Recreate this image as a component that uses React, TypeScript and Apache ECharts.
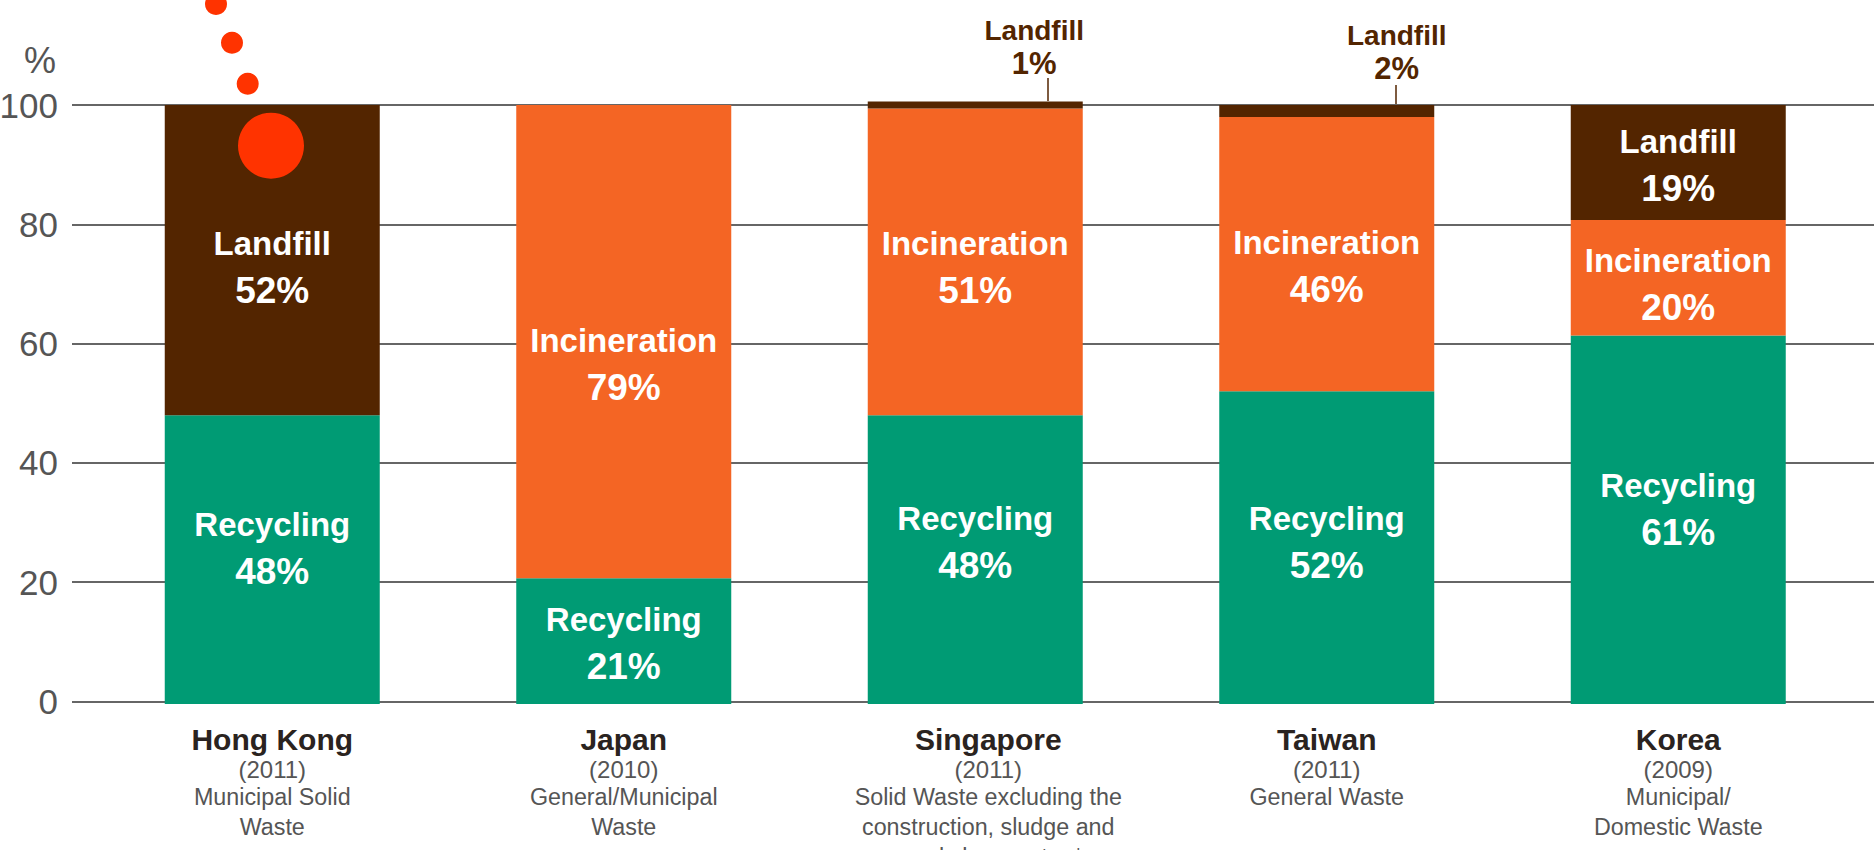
import React, { useEffect, useRef } from "react";
import * as echarts from "echarts";

const categories = ["Hong Kong", "Japan", "Singapore", "Taiwan", "Korea"];
const years = ["(2011)", "(2010)", "(2011)", "(2011)", "(2009)"];
const descriptions = [
  ["Municipal Solid", "Waste"],
  ["General/Municipal", "Waste"],
  ["Solid Waste excluding the", "construction, sludge and", "used slag waste  *"],
  ["General Waste"],
  ["Municipal/", "Domestic Waste"],
];
const yTicks = [0, 20, 40, 60, 80, 100];

const recycling = [48.2, 21, 48.2, 52.2, 61.5];
const incineration = [0, 79, 51.2, 45.8, 19.3];
const landfill = [51.8, 0, 1.2, 2, 19.2];

const recyclingText = ["48%", "21%", "48%", "52%", "61%"];
const incinerationText = ["", "79%", "51%", "46%", "20%"];
const landfillText = ["52%", "", "1%", "2%", "19%"];

const recyclingOffsets = [[0, -12], [0, 2], [0, -18], [0, -6], [0, -11]];
const incinerationOffsets = [[0, 0], [0, 22], [0, 5], [0, 12], [0, 6]];
const landfillOffsets = [[0, 7], [0, 0], [59, -58], [70, -59], [0, 2]];
const calloutBars = [2, 3];
const shiftedLabels = [2];

const GREEN = "#009b74";
const ORANGE = "#f46524";
const BROWN = "#532500";
const RED = "#ff3300";
const FONT = "'Liberation Sans Narrow', 'Liberation Sans', sans-serif";

const rich = {
  n: { fontFamily: FONT, fontWeight: 700, fontSize: 33, lineHeight: 47, color: "#fff" },
  p: { fontFamily: FONT, fontWeight: 700, fontSize: 37, lineHeight: 47, color: "#fff" },
  cn: { fontFamily: FONT, fontWeight: 700, fontSize: 28, lineHeight: 33, color: BROWN },
  cp: { fontFamily: FONT, fontWeight: 700, fontSize: 31, lineHeight: 33, color: BROWN },
};

function items(name: string, values: number[], texts: string[], offsets: number[][]) {
  return values.map((value, i) => {
    const callout = name === "Landfill" && calloutBars.includes(i);
    const show = texts[i] !== "";
    return {
      value,
      label: {
        show,
        position: "inside",
        offset: offsets[i],
        formatter: callout
          ? `{cn|${name}}\n{cp|${texts[i]}}`
          : `{n|${name}}\n{p|${texts[i]}}`,
      },
    };
  });
}

function barSeries(name: string, color: string, data: any[]) {
  return {
    name,
    type: "bar",
    stack: "waste",
    xAxisIndex: 1,
    yAxisIndex: 1,
    barWidth: 215,
    clip: false,
    itemStyle: { color },
    label: { show: true, rich },
    data,
  };
}

const xLabels = categories.map((c, i) => {
  const s = shiftedLabels.includes(i) ? "S" : "";
  return [
    `{name${s}|${c}}`,
    `{year${s}|${years[i]}}`,
    ...descriptions[i].map((d) => `{sub${s}|${d}}`),
  ].join("\n");
});

const nameStyle = { fontFamily: FONT, fontWeight: 700, fontSize: 30, lineHeight: 33, color: "#2a2320" };
const yearStyle = { fontFamily: FONT, fontSize: 24, lineHeight: 26, color: "#555" };
const subStyle = { fontFamily: FONT, fontSize: 23.3, lineHeight: 30, color: "#555" };
const shift = { padding: [0, 0, 0, 26] };

export default function App() {
  const ref = useRef<HTMLDivElement>(null);
  useEffect(() => {
    document.body.style.margin = "0";
    document.body.style.overflow = "hidden";
    const chart = echarts.init(ref.current!, undefined, { renderer: "svg" });
    chart.setOption({
      animation: false,
      backgroundColor: "#fff",
      grid: [
        { left: 72, right: 0, top: 105, height: 596.5, outerBoundsMode: "none" },
        { left: 96.5, width: 1757.5, top: 45.1, height: 658.9, outerBoundsMode: "none" },
      ],
      xAxis: [
        { gridIndex: 0, type: "category", data: categories, show: false },
        {
          gridIndex: 1,
          type: "category",
          data: xLabels,
          axisLine: { show: false },
          axisTick: { show: false },
          axisLabel: {
            margin: 19,
            interval: 0,
            rich: {
              name: nameStyle,
              year: yearStyle,
              sub: subStyle,
              nameS: { ...nameStyle, ...shift },
              yearS: { ...yearStyle, ...shift },
              subS: { ...subStyle, ...shift },
            },
          },
        },
      ],
      yAxis: [
        {
          gridIndex: 0,
          type: "value",
          min: 0,
          max: 100,
          interval: 20,
          axisLine: { show: false },
          axisTick: { show: false },
          splitLine: { show: true, lineStyle: { color: "#666", width: 2 } },
          axisLabel: {
            margin: 14,
            fontFamily: FONT,
            fontSize: 35,
            color: "#555",
            formatter: (v: number) => (yTicks.includes(v) ? String(v) : ""),
          },
        },
        { gridIndex: 1, type: "value", min: 0, max: 110, show: false, splitLine: { show: false } },
      ],
      series: [
        barSeries("Recycling", GREEN, items("Recycling", recycling, recyclingText, recyclingOffsets)),
        barSeries("Incineration", ORANGE, items("Incineration", incineration, incinerationText, incinerationOffsets)),
        barSeries("Landfill", BROWN, items("Landfill", landfill, landfillText, landfillOffsets)),
      ],
      graphic: [
        { type: "text", x: 24, y: 42, style: { text: "%", fontFamily: FONT, fontSize: 36, fill: "#555" } },
        { type: "line", shape: { x1: 1048, y1: 78, x2: 1048, y2: 101 }, style: { stroke: BROWN, lineWidth: 1.5 } },
        { type: "line", shape: { x1: 1396, y1: 85, x2: 1396, y2: 106 }, style: { stroke: BROWN, lineWidth: 1.5 } },
        { type: "circle", z: 50, shape: { cx: 216, cy: 4, r: 11 }, style: { fill: RED } },
        { type: "circle", z: 50, shape: { cx: 232, cy: 42.7, r: 11 }, style: { fill: RED } },
        { type: "circle", z: 50, shape: { cx: 247.7, cy: 83.7, r: 11 }, style: { fill: RED } },
        { type: "circle", z: 50, shape: { cx: 271, cy: 145.7, r: 33 }, style: { fill: RED } },
      ],
    });
    return () => chart.dispose();
  }, []);
  return <div ref={ref} style={{ width: 1874, height: 850 }} />;
}
